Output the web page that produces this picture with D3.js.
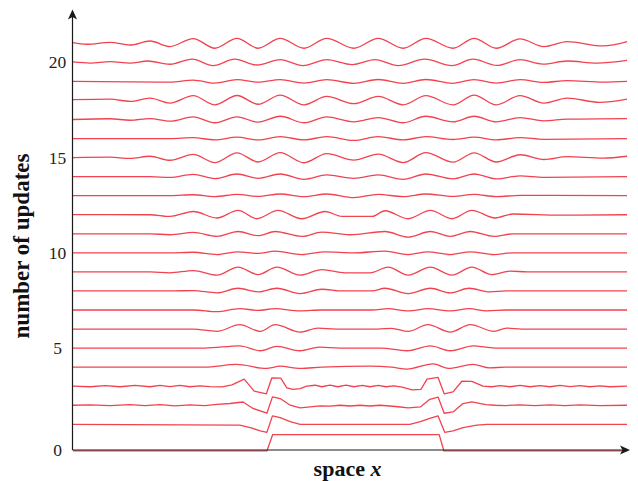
<!DOCTYPE html>
<html>
<head>
<meta charset="utf-8">
<script src="https://cdn.jsdelivr.net/npm/d3@7"></script>
<style>
  html, body { margin: 0; padding: 0; background: #fff; }
  svg { display: block; }
</style>
</head>
<body>
<svg id="chart" width="638" height="481"></svg>
<script>
// ---------- data ----------
// y tick labels
const yTickValues = [5, 10, 15, 20];
const originLabel = "0";
// base level (update number) of each curve; the n=0 curve sits on the axis
const levels = [-0.4, 1, 2, 3, 4, 5, 6, 7, 8, 9, 10, 11, 12, 13, 14, 15, 16, 17, 18, 19, 20, 21];
// each curve: [space x (0..100), deviation from its level]
const u0 = [[0,0],[35.0,0],[36.05,0.86],[66.1,0.86],[66.95,0],[100,0]];
const u1 = [[0,0],[30.1,-0.04],[32.0,-0.17],[33.8,-0.35],[35.0,-0.42],[36.0,0.44],[37.4,0.35],[39.2,0.14],[41.0,0],
  [60.8,0],[62.7,0.14],[64.4,0.31],[65.9,0.44],[67.1,-0.42],[68.6,-0.35],[70.4,-0.17],[72.9,-0.04],[74.7,0],[100,0]];
const u2 = [[0,0],[3.1,0.02],[6.7,-0.02],[10.3,0.03],[13.0,-0.02],[15.7,0.03],[18.4,-0.03],[21.1,0.02],[23.8,-0.02],
  [26.0,0.05],[28.3,0.09],[30.7,0.17],[32.5,-0.17],[35.0,-0.42],[36.0,0.44],[37.4,0.35],[39.2,0],[41.0,-0.14],
  [42.8,-0.09],[44.6,-0.03],[46.4,-0.05],[48.2,0],[50.0,-0.04],[51.8,0],[53.6,-0.04],[55.4,0],[57.2,-0.04],
  [58.7,-0.08],[60.5,-0.14],[62.7,-0.09],[64.4,0.31],[65.9,0.43],[67.0,-0.42],[68.6,-0.35],[70.4,0.09],[72.0,0.18],
  [74.5,0.03],[76.2,0],[78.0,-0.02],[80.7,0.02],[83.4,-0.02],[86.1,0.02],[88.8,-0.02],[91.5,0.02],[95.1,-0.02],[100,0]];
const u3 = [[0,0],[3.1,-0.03],[5.8,0.03],[8.5,-0.03],[11.2,0.04],[13.9,-0.03],[15.7,0.04],[17.5,-0.02],[19.3,0.04],
  [21.1,-0.03],[22.9,0.02],[24.7,-0.02],[26.9,-0.04],[28.7,0.07],[30.9,0.37],[32.7,-0.26],[34.9,-0.4],[35.9,0.44],
  [37.5,0.42],[38.6,-0.09],[39.7,-0.17],[41.0,-0.13],[42.2,0],[43.7,0.05],[44.9,-0.03],[46.4,0.05],[47.8,-0.03],
  [49.3,0.05],[50.7,-0.03],[52.2,0.04],[53.6,-0.03],[55.1,0.04],[56.5,-0.03],[57.9,0.02],[59.4,-0.05],[61.2,-0.19],
  [62.8,-0.17],[63.9,0.37],[65.9,0.46],[67.0,-0.4],[68.6,-0.3],[70.2,0.26],[72.0,0.25],[74.0,0],[75.6,-0.03],
  [77.1,0.03],[78.9,-0.03],[80.7,0.04],[82.5,-0.03],[84.3,0.03],[86.1,-0.03],[87.9,0.04],[89.7,-0.02],[91.5,0.03],
  [93.3,-0.03],[95.1,0.02],[96.9,-0.03],[100,0]];
const u4 = [[0,0],[23.8,0],[29.5,0.14],[34.9,-0.07],[37.4,0.05],[41.0,-0.07],[44.9,0],[53.6,0.05],[57.5,0],
  [60.3,-0.1],[65.0,0.17],[67.8,-0.07],[72.2,0.15],[75.2,-0.04],[78,0],[100,0]];
const u5 = [[0,0],[23.8,0],[30.1,0.12],[33.8,-0.14],[36.8,0.09],[41.0,-0.14],[44.5,0.05],[48.2,0],[55.6,0],
  [60.3,-0.14],[64.5,0.12],[68.1,-0.14],[72.2,0.12],[76.2,0],[100,0]];
const u6 = [[0,0],[21.7,0],[26.0,-0.12],[30.1,0.23],[33.8,-0.12],[36.5,0.23],[41.0,-0.16],[44.2,0.05],[47.5,0],
  [55,0],[57.5,0.04],[60.5,-0.12],[64.1,0.23],[68.1,-0.16],[71.7,0.23],[76.0,-0.12],[78.3,0.05],[81,0],[100,0]];
const u7 = [[0,0],[21.7,0],[26.0,-0.09],[30.1,0.07],[33.4,-0.02],[36.5,0.07],[41.0,-0.05],[44.9,0],[54.0,0],
  [56.9,0.07],[60.5,-0.05],[64.1,0.07],[68.1,-0.05],[71.5,0.07],[74.7,-0.05],[78.3,0],[100,0]];
const u8 = [[0,0],[17.5,0],[21.7,0.02],[26.0,-0.1],[29.8,0.14],[33.4,-0.05],[36.8,0.14],[41.0,-0.14],[44.9,0.09],
  [48.6,0],[54.0,0],[56.3,0.14],[60.5,-0.14],[64.5,0.14],[68.1,-0.1],[71.5,0.14],[75.2,-0.05],[78.3,0],[100,0]];
const u9 = [[0,0],[13.9,0],[17.5,-0.05],[21.7,0.07],[26.0,-0.17],[29.8,0.25],[33.4,-0.14],[36.8,0.25],[41.0,-0.17],
  [44.9,0.12],[49.1,-0.05],[53.6,-0.05],[56.9,0.25],[60.5,-0.17],[64.5,0.25],[68.4,-0.17],[72.0,0.25],[75.6,-0.14],
  [78.9,0.04],[82,0],[100,0]];
const u10 = [[0,0],[17.5,0],[21.7,0.03],[26.0,-0.09],[29.8,0.05],[33.4,-0.03],[36.5,0.09],[41.3,-0.09],[45.5,0.05],
  [50.7,0],[56.3,0.09],[60.5,-0.09],[64.1,0.05],[68.1,-0.09],[71.7,0.05],[76.0,-0.09],[79.4,0],[100,0]];
const u11 = [[0,0],[13.9,0],[17.5,-0.05],[21.7,0.07],[26.0,-0.14],[29.8,0.12],[33.4,-0.1],[36.5,0.12],[41.3,-0.14],
  [44.9,0.09],[50.0,-0.05],[56.3,0.12],[60.5,-0.17],[64.5,0.12],[68.1,-0.14],[71.7,0.12],[76.0,-0.14],[79.4,0],[100,0]];
const u12 = [[0,0.01],[13.9,0],[17.5,-0.09],[21.7,0.17],[26.0,-0.17],[29.8,0.23],[33.2,-0.21],[37.0,0.23],[41.3,-0.21],
  [45.5,0.17],[48.6,-0.09],[54.0,-0.09],[56.3,0.21],[60.5,-0.21],[64.5,0.23],[68.4,-0.21],[72.0,0.23],[76.2,-0.17],
  [79.4,0.04],[87.9,-0.02],[100,0]];
const u13 = [[0,0],[17.5,0],[21.7,0.05],[25.6,-0.05],[29.6,0.07],[33.4,-0.04],[37.4,0.09],[41.7,-0.05],[45.8,0.09],
  [50.7,-0.1],[55.1,0.07],[59.6,-0.05],[63.7,0.09],[68.6,-0.04],[72.4,0.07],[76.4,-0.05],[80.7,0.02],[100,0]];
const u14 = [[0,0],[13.9,0],[17.5,-0.04],[21.7,0.12],[25.6,-0.1],[29.6,0.14],[33.4,-0.09],[37.4,0.14],[41.7,-0.14],
  [45.8,0.09],[50.7,-0.09],[55.1,0.09],[59.6,-0.14],[63.7,0.14],[68.6,-0.12],[72.4,0.14],[76.4,-0.12],[80.7,0.04],
  [85.0,-0.04],[100,0]];
const u15 = [[0,0],[6.7,0.02],[10.3,-0.04],[13.9,0.07],[17.5,-0.14],[21.7,0.17],[25.6,-0.26],[29.6,0.25],[33.4,-0.23],
  [37.4,0.26],[41.7,-0.27],[45.8,0.21],[50.7,-0.13],[55.1,0.18],[59.6,-0.26],[63.7,0.26],[68.6,-0.24],[72.4,0.25],
  [76.4,-0.23],[80.7,0.15],[85.0,-0.1],[89.2,0.05],[95.7,-0.03],[100,0.07]];
const u16 = [[0,0],[17.5,0],[21.7,0.05],[25.6,-0.07],[29.6,0.07],[33.4,-0.07],[37.4,0.1],[41.7,-0.07],[45.8,0.1],
  [50.7,-0.1],[55.1,0.1],[59.6,-0.07],[63.7,0.1],[68.6,-0.05],[72.4,0.07],[76.4,-0.07],[80.7,0.05],[85.0,-0.04],[100,0]];
const u17 = [[0,0],[6.7,0.04],[10.3,-0.04],[13.9,0.05],[17.5,-0.09],[21.7,0.14],[25.6,-0.17],[29.6,0.14],[33.4,-0.14],
  [37.4,0.17],[41.7,-0.17],[45.8,0.14],[50.7,-0.12],[55.1,0.1],[59.6,-0.17],[63.7,0.17],[68.6,-0.12],[72.4,0.17],
  [76.4,-0.12],[80.7,0.1],[85.0,-0.07],[89.2,0.02],[100,0.05]];
const u18 = [[0,0.04],[6.7,0.07],[10.3,-0.05],[13.9,0.12],[17.5,-0.14],[21.7,0.25],[25.6,-0.23],[29.6,0.26],[33.4,-0.2],
  [37.4,0.28],[41.7,-0.23],[45.8,0.21],[50.7,-0.17],[55.1,0.21],[59.6,-0.23],[63.7,0.25],[68.6,-0.23],[72.4,0.28],
  [76.4,-0.23],[80.7,0.25],[85.0,-0.14],[89.2,0.12],[95.1,-0.1],[100,0.07]];
const u19 = [[0,0],[17.5,-0.04],[21.7,0.07],[25.6,-0.09],[29.6,0.09],[33.4,-0.04],[37.4,0.09],[41.7,-0.09],[45.8,0.09],
  [50.7,-0.1],[55.1,0.1],[59.6,-0.1],[63.7,0.1],[68.6,-0.1],[72.4,0.09],[76.4,-0.09],[80.7,0.09],[85.0,-0.05],
  [89.2,0.04],[95.7,-0.04],[100,0]];
const u20 = [[0,0.02],[3.1,-0.04],[6.7,0.04],[10.3,-0.04],[13.5,0.07],[17.5,-0.1],[21.5,0.17],[25.3,-0.17],[29.2,0.17],
  [33.2,-0.14],[37.4,0.14],[41.5,-0.17],[45.8,0.14],[50.4,-0.12],[54.5,0.14],[58.7,-0.17],[63.5,0.17],[68.4,-0.17],
  [72.2,0.17],[76.5,-0.16],[80.7,0.14],[84.8,-0.09],[89.2,0.07],[94.6,-0.04],[100,0.1]];
const u21 = [[0,0.04],[2.5,-0.05],[6.7,0.05],[10.3,-0.09],[13.9,0.12],[17.5,-0.17],[21.7,0.25],[25.6,-0.26],[29.6,0.26],
  [33.4,-0.26],[37.4,0.26],[41.7,-0.26],[45.8,0.26],[50.7,-0.26],[55.1,0.26],[59.6,-0.26],[63.7,0.26],[68.6,-0.26],
  [72.4,0.26],[76.4,-0.26],[80.7,0.23],[85.0,-0.17],[89.2,0.09],[95.7,-0.14],[100,0.09]];
const curves = [u0,u1,u2,u3,u4,u5,u6,u7,u8,u9,u10,u11,u12,u13,u14,u15,u16,u17,u18,u19,u20,u21];
const xLabel = "space ";
const xLabelVar = "x";
const yLabel = "number of updates";

// ---------- drawing ----------
const svg = d3.select("#chart");
const x = d3.scaleLinear().domain([0, 100]).range([73, 627]);
const y = d3.scaleLinear().domain([-0.35, 21]).range([450, 43.3]);

const lineColor = "#f2424f";
const axisColor = "#1a1a1a";

const g = svg.append("g");
curves.forEach((c, i) => {
  const lvl = levels[i];
  const gen = d3.line()
    .x(d => x(d[0]))
    .y(d => y(lvl + d[1]))
    .curve(i <= 3 ? d3.curveLinear : d3.curveMonotoneX);
  g.append("path")
    .attr("d", gen(c))
    .attr("fill", "none")
    .attr("stroke", lineColor)
    .attr("stroke-width", 1.3)
    .attr("stroke-linejoin", "round");
});

// axes
const x0 = x.range()[0] - 0.5, yBase = y.range()[0];
const yTop = 9.5, xEnd = 630;
svg.append("line").attr("x1", x0).attr("x2", x0).attr("y1", yBase).attr("y2", yTop + 5)
  .attr("stroke", axisColor).attr("stroke-width", 1.2);
svg.append("line").attr("x1", x0).attr("x2", xEnd - 5).attr("y1", yBase).attr("y2", yBase)
  .attr("stroke", axisColor).attr("stroke-width", 1.2);
// stealth arrowheads
svg.append("path")
  .attr("d", `M${x0},${yTop} L${x0 + 4.6},${yTop + 10} L${x0},${yTop + 7.5} L${x0 - 4.6},${yTop + 10} Z`)
  .attr("fill", axisColor);
svg.append("path")
  .attr("d", `M${xEnd},${yBase} L${xEnd - 10},${yBase - 4.6} L${xEnd - 7.5},${yBase} L${xEnd - 10},${yBase + 4.6} Z`)
  .attr("fill", axisColor);

const yAxis = d3.axisLeft(y).tickValues(yTickValues).tickSize(0).tickPadding(15);
const ga = svg.append("g").attr("transform", `translate(${x0},0)`).call(yAxis);
ga.select(".domain").remove();
ga.selectAll("text")
  .attr("text-anchor", "middle")
  .style("font-family", "'Liberation Serif', 'Times New Roman', serif")
  .style("font-size", "17.5px")
  .attr("fill", "#222");
svg.append("text")
  .attr("x", x0 - 15).attr("y", y(y.domain()[0]))
  .attr("dy", "0.32em")
  .attr("text-anchor", "middle")
  .style("font-family", "'Liberation Serif', 'Times New Roman', serif")
  .style("font-size", "17.5px")
  .attr("fill", "#222")
  .text(originLabel);

// axis titles
const xt = svg.append("text")
  .attr("x", 347.5).attr("y", 475.5)
  .attr("text-anchor", "middle")
  .style("font-family", "'Liberation Serif', 'Times New Roman', serif")
  .style("font-size", "22px")
  .style("font-weight", "bold")
  .attr("fill", "#111");
xt.append("tspan").text(xLabel);
xt.append("tspan").style("font-style", "italic").text(xLabelVar);

svg.append("text")
  .attr("transform", "translate(29,246) rotate(-90)")
  .attr("text-anchor", "middle")
  .style("font-family", "'Liberation Serif', 'Times New Roman', serif")
  .style("font-size", "23px")
  .style("font-weight", "bold")
  .attr("fill", "#111")
  .text(yLabel);
</script>
</body>
</html>
